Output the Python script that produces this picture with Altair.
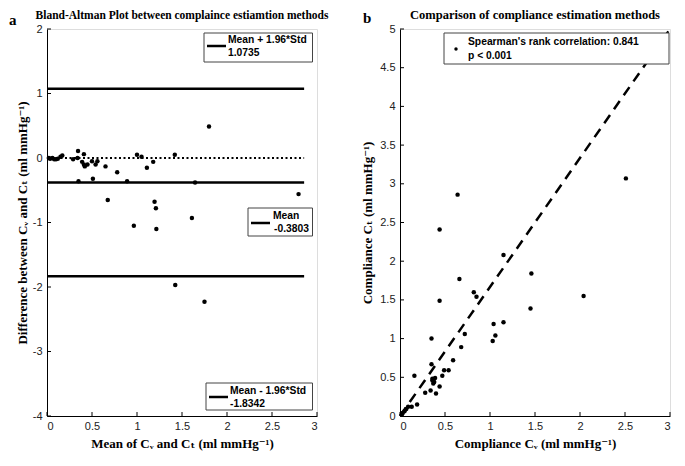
import altair as alt
import pandas as pd

# ---- Data ----
# Panel a: Bland-Altman (mean of Cv and Ct, difference Cv - Ct)
ba_mean = [0.02, 0.035, 0.06, 0.08, 0.10, 0.12, 0.15, 0.17, 0.29, 0.34, 0.345, 0.35,
           0.39, 0.41, 0.41, 0.42, 0.45, 0.50, 0.51, 0.54, 0.56, 0.65, 0.675, 0.78,
           0.89, 0.965, 1.00, 1.05, 1.11, 1.18, 1.195, 1.21, 1.215, 1.42, 1.425, 1.61,
           1.645, 1.75, 1.80, 2.795]
ba_diff = [0.00, -0.01, 0.00, -0.02, -0.02, -0.01, 0.02, 0.04, -0.02, 0.00, 0.11, -0.36,
           -0.06, 0.06, -0.10, -0.13, -0.10, -0.05, -0.32, -0.10, -0.05, -0.13, -0.65, -0.22,
           -0.36, -1.05, 0.05, 0.02, -0.15, -0.06, -0.68, -0.78, -1.10, 0.05, -1.97, -0.93,
           -0.38, -2.23, 0.49, -0.56]
limit_values = [1.0735, -0.3803, -1.8342]
limit_names = ["Mean + 1.96*Std", "Mean", "Mean - 1.96*Std"]
limit_x_end = 2.857

# Panel b: Cv vs Ct
cv = [0.02, 0.03, 0.05, 0.07, 0.09, 0.13, 0.19, 0.16, 0.28, 0.34, 0.40, 0.44, 0.35, 0.35,
      0.36, 0.37, 0.38, 0.39, 0.36, 0.47, 0.49, 0.54, 0.59, 0.68, 0.72, 0.44, 0.66, 0.82,
      0.85, 1.03, 1.06, 1.04, 1.15, 1.15, 1.45, 1.46, 2.04, 0.64, 0.44, 2.51]
ct = [0.02, 0.04, 0.06, 0.09, 0.12, 0.12, 0.15, 0.52, 0.30, 0.33, 0.29, 0.38, 0.67, 1.00,
      0.46, 0.42, 0.44, 0.49, 0.48, 0.52, 0.59, 0.59, 0.72, 0.89, 1.06, 1.49, 1.77, 1.60,
      1.54, 0.97, 1.04, 1.19, 1.21, 2.08, 1.39, 1.84, 1.55, 2.86, 2.41, 3.07]
fit_x = [0, 3]
fit_y = [0, 5]

a_xticks = [0, 0.5, 1, 1.5, 2, 2.5, 3]
a_yticks = [-4, -3, -2, -1, 0, 1, 2]
b_xticks = [0, 0.5, 1, 1.5, 2, 2.5, 3]
b_yticks = [0, 0.5, 1, 1.5, 2, 2.5, 3, 3.5, 4, 4.5, 5]

title_a = "Bland-Altman Plot between complaince estiamtion methods"
title_b = "Comparison of compliance estimation methods"

WA, WB, H = 270, 270, 387
SANS = "Liberation Sans"
SERIF = "Liberation Serif, DejaVu Serif"

axis_common = dict(grid=False, ticks=False, domainColor="black", domainWidth=1,
                   labelFont=SANS, labelFontSize=11, labelColor="#222",
                   labelExpr="'' + datum.value", labelOverlap=False, tickCount=30,
                   titleFont=SERIF, titleFontSize=13, titleFontWeight="bold",
                   titleColor="black")


def legend_box(x0, y0, x1, y1):
    return alt.Chart(pd.DataFrame({"k": [0]})).mark_rect(
        fill="white", stroke="#444", strokeWidth=1).encode(
        x=alt.value(x0), x2=alt.value(x1), y=alt.value(y0), y2=alt.value(y1))


def legend_line(x0, x1, y):
    return alt.Chart(pd.DataFrame({"k": [0]})).mark_rule(color="black", strokeWidth=2.5).encode(
        x=alt.value(x0), x2=alt.value(x1), y=alt.value(y))


def legend_text(txt, x, y):
    return alt.Chart(pd.DataFrame({"t": [txt]})).mark_text(
        font=SANS, fontSize=10.3, fontWeight="bold", align="left", baseline="middle",
        color="black").encode(text="t:N", x=alt.value(x), y=alt.value(y))


def text_mark(txt, x, y, size, align="left"):
    return alt.Chart(pd.DataFrame({"t": [txt]})).mark_text(
        font=SERIF, fontSize=size, fontWeight="bold", align=align, baseline="alphabetic",
        color="black").encode(text="t:N", x=alt.value(x), y=alt.value(y))


# ---------------- Panel a ----------------
ba_df = pd.DataFrame({"m": ba_mean, "d": ba_diff})
lim_df = pd.DataFrame({"y": limit_values, "x0": [0] * 3, "x1": [limit_x_end] * 3})
zero_df = pd.DataFrame({"y": [0.0], "x0": [0], "x1": [limit_x_end]})

xa = alt.X("m:Q", scale=alt.Scale(domain=[0, 3], nice=False),
           axis=alt.Axis(values=a_xticks, title="Mean of Cᵥ and Cₜ (ml mmHg⁻¹)",
                         labelPadding=4, titlePadding=6, **axis_common))
ya = alt.Y("d:Q", scale=alt.Scale(domain=[-4, 2], nice=False),
           axis=alt.Axis(values=a_yticks, title="Difference between Cᵥ and Cₜ (ml mmHg⁻¹)",
                         labelPadding=5, titlePadding=3, **axis_common))

pts_a = alt.Chart(ba_df).mark_circle(size=20, color="black", opacity=1).encode(x=xa, y=ya)

lim_rules = alt.Chart(lim_df).mark_rule(color="black", strokeWidth=2.5).encode(
    x="x0:Q", x2="x1:Q", y="y:Q")
zero_rule = alt.Chart(zero_df).mark_rule(color="black", strokeWidth=2, strokeDash=[2, 2.5]).encode(
    x="x0:Q", x2="x1:Q", y="y:Q")

a_xt = alt.Chart(pd.DataFrame({"v": a_xticks})).mark_rule(color="black").encode(
    x="v:Q", y=alt.value(H), y2=alt.value(H - 4))
a_yt = alt.Chart(pd.DataFrame({"v": a_yticks})).mark_rule(color="black").encode(
    y="v:Q", x=alt.value(0), x2=alt.value(4))

leg_a = [
    legend_box(WA - 113, 4, WA - 4.5, 33), legend_line(WA - 110, WA - 91, 17),
    legend_text(limit_names[0], WA - 89, 11), legend_text(f"{limit_values[0]:.4f}", WA - 89, 24),
    legend_box(WA - 69, 179, WA - 4.5, 207), legend_line(WA - 66, WA - 47, 194),
    legend_text(limit_names[1], WA - 44, 187), legend_text(f"{limit_values[1]:.4f}", WA - 43, 200),
    legend_box(WA - 111, 354, WA - 4.5, 381), legend_line(WA - 108, WA - 89, 368),
    legend_text(limit_names[2], WA - 87, 362), legend_text(f"{limit_values[2]:.4f}", WA - 87, 375),
]

panel_a = alt.layer(
    zero_rule, lim_rules, pts_a, a_xt, a_yt, *leg_a,
    text_mark("a", -38, -4, 15),
    text_mark(title_a, WA / 2, -10, 11.5, align="center"),
).properties(width=WA, height=H)

# ---------------- Panel b ----------------
b_df = pd.DataFrame({"cv": cv, "ct": ct})
fit_df = pd.DataFrame({"cv": fit_x, "ct": fit_y})

xb = alt.X("cv:Q", scale=alt.Scale(domain=[0, 3], nice=False),
           axis=alt.Axis(values=b_xticks, title="Compliance Cᵥ (ml mmHg⁻¹)",
                         labelPadding=4, titlePadding=6, **axis_common))
yb = alt.Y("ct:Q", scale=alt.Scale(domain=[0, 5], nice=False),
           axis=alt.Axis(values=b_yticks, title="Compliance Cₜ (ml mmHg⁻¹)",
                         labelPadding=5, titlePadding=5, **axis_common))

fit_line = alt.Chart(fit_df).mark_line(color="black", strokeWidth=2.5, strokeDash=[10, 7]).encode(
    x=xb, y=yb)
pts_b = alt.Chart(b_df).mark_circle(size=20, color="black", opacity=1).encode(x=xb, y=yb)

b_xt = alt.Chart(pd.DataFrame({"v": b_xticks})).mark_rule(color="black").encode(
    x="v:Q", y=alt.value(H), y2=alt.value(H - 4))
b_yt = alt.Chart(pd.DataFrame({"v": b_yticks})).mark_rule(color="black").encode(
    y="v:Q", x=alt.value(0), x2=alt.value(4))

leg_b_dot = alt.Chart(pd.DataFrame({"k": [0]})).mark_circle(size=12, color="black", opacity=1).encode(
    x=alt.value(WB - 214), y=alt.value(20))
leg_b = [
    legend_box(WB - 226, 4, WB - 1, 35), leg_b_dot,
    legend_text("Spearman's rank correlation: 0.841", WB - 202, 13),
    legend_text("p < 0.001", WB - 202, 27),
]

panel_b = alt.layer(
    fit_line, pts_b, b_xt, b_yt, *leg_b,
    text_mark("b", -37, -6, 15),
    text_mark(title_b, WB / 2, -10, 12.5, align="center"),
).properties(width=WB, height=H)

chart = alt.hconcat(panel_a, panel_b, spacing=32).resolve_scale(
    x="independent", y="independent").properties(padding=0).configure_view(
    stroke=None).configure(background="white")

chart.save("out.html", embed_options={"renderer": "svg", "actions": False})
